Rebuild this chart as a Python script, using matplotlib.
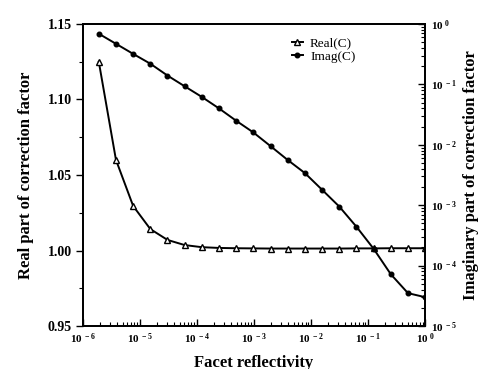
from matplotlib import pyplot as plt
from matplotlib.ticker import LogLocator, FixedLocator, FuncFormatter, NullFormatter
import numpy as np

plt.rcParams['font.family'] = 'Liberation Serif'
plt.rcParams['mathtext.fontset'] = 'custom'
plt.rcParams['mathtext.rm'] = 'Liberation Serif:bold'
plt.rcParams['mathtext.bf'] = 'Liberation Serif:bold'
plt.rcParams['mathtext.it'] = 'Liberation Serif:bold'

# facet reflectivity, halving from 1 down to 2^-19
reflectivity = [2.0**-19, 2.0**-18, 2.0**-17, 2.0**-16, 2.0**-15, 2.0**-14, 2.0**-13,
                2.0**-12, 2.0**-11, 2.0**-10, 2.0**-9, 2.0**-8, 2.0**-7, 2.0**-6,
                2.0**-5, 2.0**-4, 2.0**-3, 2.0**-2, 2.0**-1, 1.0]
real_c = [1.125, 1.060, 1.0295, 1.0142, 1.0070, 1.0036, 1.0022, 1.0017, 1.0015, 1.0014,
          1.0013, 1.0013, 1.0013, 1.0013, 1.0013, 1.0014, 1.0014, 1.0015, 1.0015, 1.0015]
imag_c = [0.69, 0.47, 0.32, 0.22, 0.14, 0.093, 0.062, 0.040, 0.025, 0.016,
          0.0095, 0.0056, 0.0034, 0.0018, 0.00095, 0.00044, 0.00019, 7.2e-5, 3.5e-5, 3.0e-5]

fig = plt.figure(figsize=(4.87, 3.69), dpi=100)
ax = fig.add_axes([0.170, 0.1165, 0.703, 0.8185])
ax2 = ax.twinx()

l1, = ax.plot(reflectivity, real_c, color='k', lw=1.4, marker='^', ms=4.5,
              mfc='white', mec='k', mew=1.0, label='Real(C)')
l2, = ax2.plot(reflectivity, imag_c, color='k', lw=1.4, marker='o', ms=3.3,
               mfc='k', mec='k', label='Imag(C)')

ax.set_xscale('log')
ax.set_xlim(1e-6, 1)
ax.set_ylim(0.95, 1.15)
ax2.set_yscale('log')
ax2.set_ylim(1e-5, 1)

def pow_fmt(v, pos):
    e = int(round(np.log10(v)))
    if e == 0:
        return r'$\mathbf{10^{\;0}}$'
    return r'$\mathbf{10^{\;-%d}}$' % (-e)

ax.xaxis.set_major_locator(LogLocator(base=10, numticks=10))
ax.xaxis.set_minor_locator(LogLocator(base=10, subs=np.arange(2, 10), numticks=10))
ax.xaxis.set_major_formatter(FuncFormatter(pow_fmt))
ax.xaxis.set_minor_formatter(NullFormatter())
ax2.yaxis.set_major_locator(LogLocator(base=10, numticks=10))
ax2.yaxis.set_minor_locator(LogLocator(base=10, subs=np.arange(2, 10), numticks=10))
ax2.yaxis.set_major_formatter(FuncFormatter(pow_fmt))
ax2.yaxis.set_minor_formatter(NullFormatter())

ax.yaxis.set_major_locator(FixedLocator([0.95, 1.00, 1.05, 1.10, 1.15]))
ax.yaxis.set_minor_locator(FixedLocator([0.975, 1.025, 1.075, 1.125]))
ax.yaxis.set_major_formatter(FuncFormatter(lambda v, p: '%.2f' % v))

ax.tick_params(axis='x', which='major', direction='in', length=5, width=1, labelsize=8, pad=4)
ax.tick_params(axis='x', which='minor', direction='in', length=3, width=0.8)
ax.tick_params(axis='y', which='major', direction='out', length=5, width=1, labelsize=10, pad=3)
ax.tick_params(axis='y', which='minor', direction='out', length=3, width=0.8)
ax2.tick_params(axis='y', which='major', direction='in', length=5, width=1, labelsize=8, pad=4)
ax2.tick_params(axis='y', which='minor', direction='in', length=3, width=0.8)
for lab in ax.get_yticklabels():
    lab.set_fontweight('bold')

for a in (ax, ax2):
    for s in a.spines.values():
        s.set_linewidth(1.3)

ax.set_xlabel('Facet reflectivity', fontsize=12, fontweight='bold', labelpad=6)
ax.set_ylabel('Real part of correction factor', fontsize=12, fontweight='bold', labelpad=10)
ax2.set_ylabel('Imaginary part of correction factor', fontsize=12, fontweight='bold', labelpad=5)

ax2.legend(handles=[l1, l2], loc='upper left', bbox_to_anchor=(0.575, 0.995), frameon=False,
           fontsize=9.5, handlelength=0.9, handletextpad=0.5, labelspacing=0.05)

plt.savefig('out.png', dpi=100)
